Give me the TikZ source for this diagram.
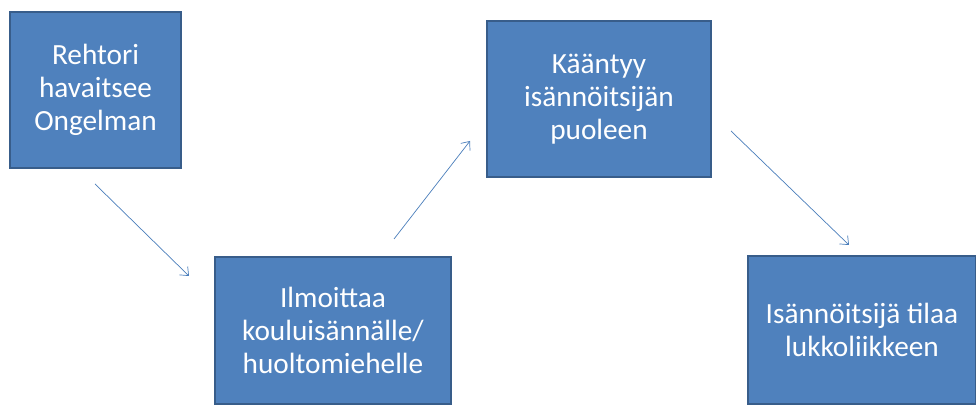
\documentclass[tikz,border=0pt]{standalone}
\usepackage{fontspec}
\setmainfont{Carlito}
\usetikzlibrary{arrows.meta}
\definecolor{boxfill}{HTML}{4F81BD}
\definecolor{boxline}{HTML}{385D8A}
\definecolor{arrowline}{HTML}{4A7EBB}
\tikzset{
    stepbox/.style={rectangle, fill=boxfill, draw=boxline, line width=2.2pt,
        text=white, align=center, inner sep=0pt,
        font=\fontsize{25}{28}\selectfont},
    flow/.style={color=arrowline, line width=0.6pt,
        -{Straight Barb[length=6pt,width=10pt]}}
}
\begin{document}
\begin{tikzpicture}[x=0.03cm, y=-0.03cm]
                        \useasboundingbox (0,0) rectangle (976,405);
                        \node at (95.5, 90) [stepbox, minimum width=5.13cm, minimum height=4.68cm] (R) {Rehtori\\havaitsee\\Ongelman};
                        \node at (333, 330.5) [stepbox, minimum width=7.08cm, minimum height=4.41cm] (I) {Ilmoittaa\\kouluisännälle/\\huoltomiehelle};
                        \node at (599, 99) [stepbox, minimum width=6.72cm, minimum height=4.68cm] (K) {Kääntyy\\isännöitsijän\\puoleen};
                        \node at (862, 330) [stepbox, minimum width=6.84cm, minimum height=4.44cm] (L) {Isännöitsijä tilaa\\lukkoliikkeen};

                        \coordinate (R-out) at (95, 184);
                        \coordinate (I-in) at (189, 276);
                        \coordinate (I-out) at (394, 239);
                        \coordinate (K-in) at (470, 141);
                        \coordinate (K-out) at (731, 131);
                        \coordinate (L-in) at (849, 245);

                        \path [flow]
                            (R-out) edge (I-in)
                            (I-out) edge (K-in)
                            (K-out) edge (L-in);
                    \end{tikzpicture}
\end{document}
